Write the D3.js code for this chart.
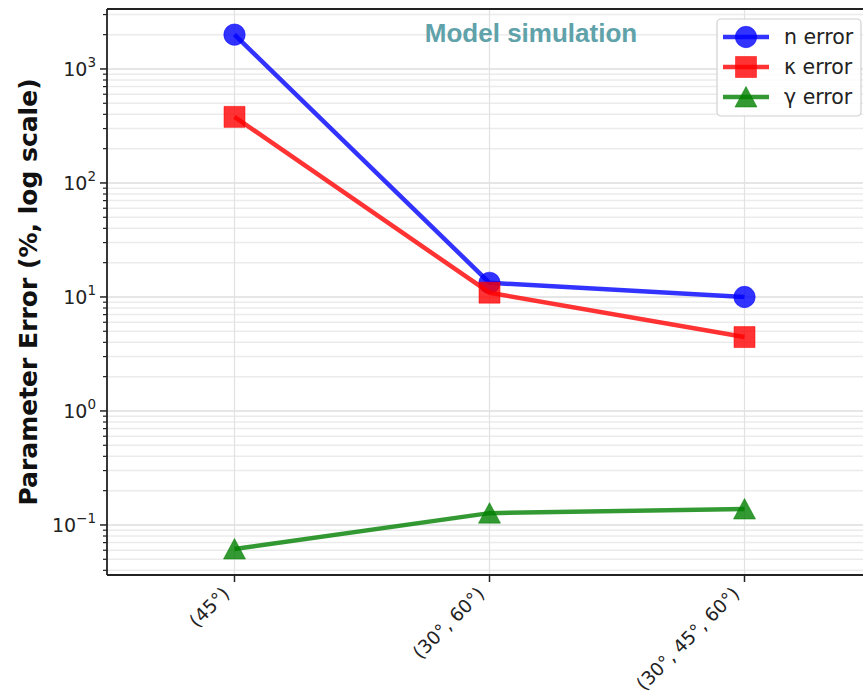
<!DOCTYPE html>
<html><head><meta charset="utf-8">
<script src="https://cdn.jsdelivr.net/npm/d3@7"></script>
<style>body{margin:0;background:#fff}svg{display:block}</style>
</head><body>
<svg id="chart" width="863" height="698"></svg>
<script>
const categories = ["(45°)", "(30°, 60°)", "(30°, 45°, 60°)"];
const nError = [2000, 13.3, 10];
const kappaError = [380, 10.9, 4.45];
const gammaError = [0.0615, 0.127, 0.138];
const yTickExps = [-1, 0, 1, 2, 3];
const seriesNames = ["n error", "κ error", "γ error"];

const W = 863, H = 698;
const m = {left: 107, top: 9, right: 872, bottom: 575};
const svg = d3.select("#chart");
svg.append("rect").attr("width", W).attr("height", H).attr("fill", "#fff");

const x = d3.scalePoint().domain(categories).range([m.left, m.right]).padding(0.5);
const y = d3.scaleLog().domain([0.0364, 3357]).range([m.bottom, m.top]);

const gGrid = svg.append("g");
const minorVals = [];
for (let e = -2; e <= 3; e++) for (let k = 2; k <= 9; k++) {
  const v = k * Math.pow(10, e);
  if (v >= y.domain()[0] && v <= y.domain()[1]) minorVals.push(v);
}
const majorVals = yTickExps.map(e => Math.pow(10, e));
gGrid.selectAll(".mg").data(minorVals).join("line")
  .attr("x1", m.left).attr("x2", m.right).attr("y1", d => y(d)).attr("y2", d => y(d))
  .attr("stroke", "#ebebeb").attr("stroke-width", 1.5);
gGrid.selectAll(".Mg").data(majorVals).join("line")
  .attr("x1", m.left).attr("x2", m.right).attr("y1", d => y(d)).attr("y2", d => y(d))
  .attr("stroke", "#dedede").attr("stroke-width", 1.5);
gGrid.selectAll(".vg").data(categories).join("line")
  .attr("x1", d => x(d)).attr("x2", d => x(d)).attr("y1", m.top).attr("y2", m.bottom)
  .attr("stroke", "#e2e2e2").attr("stroke-width", 1.2);

svg.append("line").attr("x1", m.left).attr("x2", m.left).attr("y1", m.top).attr("y2", m.bottom).attr("stroke", "#222").attr("stroke-width", 1.8);
svg.append("line").attr("x1", m.left).attr("x2", m.right).attr("y1", m.bottom).attr("y2", m.bottom).attr("stroke", "#222").attr("stroke-width", 1.8);
svg.append("line").attr("x1", m.left).attr("x2", m.right).attr("y1", m.top).attr("y2", m.top).attr("stroke", "#222").attr("stroke-width", 1.8);

const gy = svg.append("g");
gy.selectAll(".mt").data(minorVals).join("line")
  .attr("x1", m.left - 4).attr("x2", m.left).attr("y1", d => y(d)).attr("y2", d => y(d))
  .attr("stroke", "#222").attr("stroke-width", 1.2);
gy.selectAll(".Mt").data(majorVals).join("line")
  .attr("x1", m.left - 7).attr("x2", m.left).attr("y1", d => y(d)).attr("y2", d => y(d))
  .attr("stroke", "#222").attr("stroke-width", 1.5);
const yl = gy.selectAll(".yl").data(yTickExps).join("text")
  .attr("x", 96).attr("y", d => y(Math.pow(10, d)) + 7)
  .attr("text-anchor", "end").attr("font-family", "DejaVu Sans").attr("font-size", 19).attr("fill", "#222");
yl.append("tspan").text("10");
yl.append("tspan").attr("dy", -9).attr("font-size", 13.5).text(d => d < 0 ? "−" + Math.abs(d) : String(d));

const gx = svg.append("g");
gx.selectAll(".xt").data(categories).join("line")
  .attr("x1", d => x(d)).attr("x2", d => x(d)).attr("y1", m.bottom).attr("y2", m.bottom + 7)
  .attr("stroke", "#222").attr("stroke-width", 1.5);
gx.selectAll(".xl").data(categories).join("text")
  .attr("transform", d => `translate(${x(d) - 4},${m.bottom + 20}) rotate(-45)`)
  .attr("text-anchor", "end").attr("font-family", "DejaVu Sans").attr("font-size", 18.5).attr("fill", "#222")
  .text(d => d);

svg.append("text").attr("transform", `translate(37,${(m.top + m.bottom) / 2}) rotate(-90)`)
  .attr("text-anchor", "middle").attr("font-family", "DejaVu Sans").attr("font-weight", "bold")
  .attr("font-size", 25).attr("fill", "#111").text("Parameter Error (%, log scale)");

svg.append("text").attr("x", 531).attr("y", 42).attr("text-anchor", "middle")
  .attr("font-family", "Liberation Sans, Arial, sans-serif").attr("font-weight", "bold")
  .attr("font-size", 26).attr("fill", "#5fa2aa").text("Model simulation");

const series = [
  {name: seriesNames[0], values: nError, color: "blue", shape: "circle"},
  {name: seriesNames[1], values: kappaError, color: "red", shape: "square"},
  {name: seriesNames[2], values: gammaError, color: "green", shape: "triangle"}
];
const markerPath = {
  circle: d3.symbol().type(d3.symbolCircle).size(360)(),
  square: "M-10.5,-10.5H10.5V10.5H-10.5Z",
  triangle: "M0,-10.5L11,10L-11,10Z"
};
const line = d3.line().x((d, i) => x(categories[i])).y(d => y(d));
function drawMarker(g, s, cx, cy) {
  g.append("path").attr("d", markerPath[s.shape])
    .attr("transform", `translate(${cx},${cy})`)
    .attr("fill", s.color).attr("fill-opacity", 0.8)
    .attr("stroke", s.color).attr("stroke-opacity", 0.5).attr("stroke-width", 1);
}
series.forEach(s => {
  const g = svg.append("g");
  g.append("path").datum(s.values).attr("d", line).attr("fill", "none")
    .attr("stroke", s.color).attr("stroke-opacity", 0.8).attr("stroke-width", 4.5)
    .attr("stroke-linejoin", "round");
  s.values.forEach((v, i) => drawMarker(g, s, x(categories[i]), y(v)));
});

const lg = svg.append("g");
lg.append("rect").attr("x", 717).attr("y", 19).attr("width", 144).attr("height", 97).attr("rx", 4)
  .attr("fill", "#fff").attr("fill-opacity", 0.85).attr("stroke", "#d0d0d0").attr("stroke-width", 1.2);
series.forEach((s, i) => {
  const cy = 37 + i * 30;
  lg.append("line").attr("x1", 723).attr("x2", 769).attr("y1", cy).attr("y2", cy)
    .attr("stroke", s.color).attr("stroke-opacity", 0.8).attr("stroke-width", 4.5);
  drawMarker(lg, s, 746, cy);
  lg.append("text").attr("x", 784).attr("y", cy + 7).attr("font-family", "DejaVu Sans")
    .attr("font-size", 20.5).attr("fill", "#222").text(s.name);
});
</script>
</body></html>
